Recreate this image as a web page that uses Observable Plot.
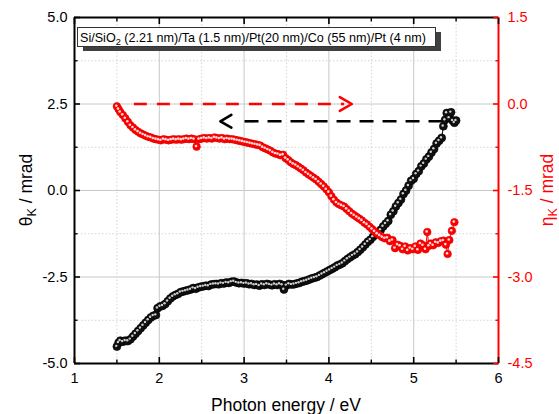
<!DOCTYPE html>
<html><head><meta charset="utf-8">
<script src="https://cdn.jsdelivr.net/npm/d3@7"></script>
<script src="https://cdn.jsdelivr.net/npm/@observablehq/plot@0.6"></script>
<style>
body{margin:0;background:#fff}
svg{font-family:"Liberation Sans",Arial,sans-serif}
</style>
</head><body><div id="chart"></div>
<script>
// ---- data ----
const energyTheta = [1.50,1.52,1.54,1.57,1.60,1.63,1.66,1.69,1.72,1.75,1.78,1.81,1.84,1.87,1.90,1.93,1.96,1.98,2.01,2.04,2.07,2.10,2.13,2.16,2.19,2.22,2.25,2.28,2.31,2.34,2.37,2.40,2.43,2.46,2.49,2.52,2.55,2.58,2.61,2.64,2.67,2.70,2.73,2.76,2.79,2.82,2.85,2.88,2.91,2.94,2.97,3.00,3.03,3.06,3.09,3.12,3.15,3.18,3.21,3.24,3.27,3.30,3.33,3.36,3.39,3.42,3.45,3.47,3.50,3.53,3.56,3.59,3.62,3.65,3.68,3.71,3.74,3.77,3.80,3.83,3.86,3.89,3.92,3.95,3.98,4.01,4.04,4.07,4.10,4.13,4.16,4.19,4.22,4.25,4.28,4.31,4.34,4.37,4.40,4.43,4.46,4.49,4.52,4.55,4.58,4.61,4.64,4.67,4.70,4.73,4.76,4.79,4.82,4.85,4.88,4.91,4.94,4.97,5.00,5.03,5.06,5.09,5.12,5.15,5.18,5.21,5.24,5.27,5.30,5.33,5.35,5.37,5.39,5.42,5.44,5.46,5.48,5.50];
const theta = [-4.51,-4.40,-4.34,-4.37,-4.34,-4.35,-4.30,-4.22,-4.14,-4.06,-3.98,-3.90,-3.82,-3.74,-3.67,-3.62,-3.60,-3.40,-3.35,-3.33,-3.28,-3.20,-3.12,-3.06,-3.02,-2.99,-2.94,-2.92,-2.90,-2.88,-2.86,-2.82,-2.84,-2.80,-2.78,-2.77,-2.75,-2.76,-2.72,-2.71,-2.70,-2.71,-2.68,-2.69,-2.66,-2.67,-2.64,-2.63,-2.66,-2.68,-2.67,-2.69,-2.68,-2.71,-2.70,-2.73,-2.72,-2.75,-2.71,-2.73,-2.70,-2.72,-2.74,-2.71,-2.73,-2.70,-2.73,-2.86,-2.74,-2.70,-2.72,-2.71,-2.69,-2.67,-2.64,-2.62,-2.60,-2.57,-2.54,-2.52,-2.50,-2.46,-2.42,-2.38,-2.34,-2.30,-2.26,-2.22,-2.17,-2.14,-2.10,-2.04,-1.98,-1.93,-1.88,-1.84,-1.78,-1.71,-1.64,-1.56,-1.48,-1.42,-1.34,-1.26,-1.20,-1.14,-1.04,-0.96,-0.88,-0.70,-0.60,-0.46,-0.36,-0.26,-0.10,0.00,0.14,0.28,0.34,0.48,0.56,0.70,0.78,0.90,0.98,1.10,1.20,1.36,1.44,1.52,1.86,2.04,2.24,2.10,2.26,2.02,1.96,2.02];

const energyEta = [1.50,1.52,1.54,1.57,1.60,1.63,1.66,1.69,1.72,1.75,1.78,1.81,1.84,1.87,1.90,1.93,1.96,1.99,2.02,2.05,2.08,2.11,2.14,2.17,2.20,2.23,2.26,2.29,2.32,2.35,2.38,2.41,2.44,2.47,2.50,2.53,2.56,2.59,2.62,2.65,2.68,2.71,2.74,2.77,2.80,2.83,2.86,2.89,2.92,2.95,2.98,3.01,3.04,3.07,3.10,3.13,3.16,3.19,3.22,3.25,3.28,3.31,3.34,3.37,3.40,3.43,3.46,3.49,3.52,3.55,3.58,3.61,3.64,3.67,3.70,3.73,3.76,3.79,3.82,3.85,3.88,3.91,3.94,3.97,4.00,4.03,4.06,4.09,4.12,4.15,4.18,4.21,4.24,4.27,4.30,4.33,4.36,4.39,4.42,4.45,4.48,4.51,4.54,4.57,4.60,4.63,4.66,4.69,4.72,4.75,4.78,4.81,4.84,4.87,4.90,4.93,4.96,4.99,5.02,5.05,5.08,5.11,5.14,5.16,5.18,5.20,5.23,5.26,5.29,5.32,5.35,5.38,5.40,5.42,5.45,5.48];
const eta = [-0.04,-0.09,-0.14,-0.19,-0.25,-0.31,-0.37,-0.41,-0.45,-0.48,-0.51,-0.53,-0.55,-0.57,-0.58,-0.60,-0.61,-0.62,-0.63,-0.61,-0.62,-0.63,-0.62,-0.61,-0.62,-0.61,-0.62,-0.61,-0.60,-0.61,-0.60,-0.61,-0.74,-0.61,-0.60,-0.59,-0.60,-0.59,-0.60,-0.58,-0.59,-0.60,-0.59,-0.61,-0.60,-0.61,-0.61,-0.62,-0.63,-0.64,-0.65,-0.66,-0.67,-0.68,-0.69,-0.70,-0.71,-0.72,-0.75,-0.77,-0.79,-0.81,-0.84,-0.86,-0.87,-0.89,-0.88,-0.94,-0.97,-1.01,-1.04,-1.06,-1.09,-1.12,-1.15,-1.19,-1.22,-1.25,-1.28,-1.31,-1.35,-1.39,-1.43,-1.48,-1.53,-1.60,-1.66,-1.71,-1.74,-1.76,-1.78,-1.82,-1.86,-1.90,-1.93,-1.96,-1.99,-2.02,-2.06,-2.09,-2.13,-2.17,-2.21,-2.25,-2.28,-2.31,-2.33,-2.32,-2.38,-2.36,-2.50,-2.44,-2.46,-2.52,-2.47,-2.54,-2.50,-2.52,-2.47,-2.53,-2.42,-2.45,-2.52,-2.22,-2.46,-2.42,-2.45,-2.40,-2.41,-2.38,-2.37,-2.44,-2.60,-2.36,-2.20,-2.05];

const xMajorTicks = [1,2,3,4,5,6];
const xMinorTicks = [1.5,2.5,3.5,4.5,5.5];
const thetaMajorTicks = [-5,-2.5,0,2.5,5];
const thetaMinorTicks = [-3.75,-1.25,1.25,3.75];
const etaMajorTicks = [-4.5,-3,-1.5,0,1.5];
const etaMinorTicks = [-3.75,-2.25,-0.75,0.75];
const etaDomain = [-4.5, 1.5];
const thetaDomain = [-5, 5];

// arrows: red points right along eta = 0, black points left along theta = 2
const arrowEta = [{from: 1.70, end: 4.18, tip: 4.27, value: 0}];
const arrowTheta = [{from: 5.34, end: 2.97, tip: 2.72, value: 2.0}];

const sampleText = ["Si/SiO", "2", " (2.21 nm)/Ta (1.5 nm)/Pt(20 nm)/Co (55 nm)/Pt (4 nm)"];
const xLabel = "Photon energy / eV";
const leftLabel = ["θ", "K", " / mrad"];
const rightLabel = ["η", "K", " / mrad"];

// ---- helpers ----
const span = (thetaDomain[1]-thetaDomain[0])/(etaDomain[1]-etaDomain[0]);
const etaToY = e => thetaDomain[0] + (e - etaDomain[0]) * span;
const yToEta = y => etaDomain[0] + (y - thetaDomain[0]) / span;
const fmt = v => { const r = Math.round(v*10)/10; return (r < 0 ? "-" : "") + Math.abs(r).toFixed(1); };

const thetaData = energyTheta.map((x,i)=>({x, y: theta[i]}));
const etaData = energyEta.map((x,i)=>({x, y: etaToY(eta[i])}));
const RED = "#ff0000";
const none = () => "";
// open chevron arrow head (points in the vector direction, tip at the anchor end)
const chevron = {draw(context, l) {
  const w = l * 0.58;
  context.moveTo(-w, 0);
  context.lineTo(0, -l);
  context.lineTo(w, 0);
}};

const plot = Plot.plot({
  width: 559, height: 414,
  marginLeft: 74, marginRight: 61, marginTop: 17, marginBottom: 51,
  x: {domain: [1,6]},
  y: {domain: thetaDomain},
  style: {fontFamily: "Liberation Sans, Arial, sans-serif", fontSize: "14.5px", background: "white", color: "black"},
  marks: [
    // grid
    Plot.ruleX(xMinorTicks, {stroke: "#d4d4d4", strokeDasharray: "1.5,2"}),
    Plot.ruleY(thetaMinorTicks, {stroke: "#d4d4d4", strokeDasharray: "1.5,2"}),
    Plot.ruleX(xMajorTicks.slice(1,-1), {stroke: "#c8c8c8"}),
    Plot.ruleY(thetaMajorTicks.slice(1,-1), {stroke: "#c8c8c8"}),
    // dashed arrows
    Plot.link(arrowEta, {x1: "from", x2: "end", y1: d => etaToY(d.value), y2: d => etaToY(d.value), stroke: RED, strokeWidth: 2.6, strokeDasharray: "13,10"}),
    Plot.vector(arrowEta, {x: "tip", y: d => etaToY(d.value), length: 12, rotate: 90, anchor: "end", shape: chevron, stroke: RED, strokeWidth: 2.6, fill: "none"}),
    Plot.link(arrowTheta, {x1: "from", x2: "end", y1: "value", y2: "value", stroke: "black", strokeWidth: 2.6, strokeDasharray: "14,9"}),
    Plot.vector(arrowTheta, {x: "tip", y: "value", length: 11, rotate: -90, anchor: "end", shape: chevron, stroke: "black", strokeWidth: 2.6, fill: "none"}),
    // theta series
    Plot.line(thetaData, {x: "x", y: "y", stroke: "black", strokeWidth: 1}),
    Plot.dot(thetaData, {x: "x", y: "y", r: 4, fill: "#111", stroke: "#000", strokeWidth: 0.6}),
    Plot.dot(thetaData, {x: "x", y: "y", r: 1.2, fill: "white", fillOpacity: 0.8, dx: -0.7, dy: -0.7}),
    // eta series
    Plot.line(etaData, {x: "x", y: "y", stroke: RED, strokeWidth: 1}),
    Plot.dot(etaData, {x: "x", y: "y", r: 3.8, fill: RED, stroke: "#e00000", strokeWidth: 0.6}),
    Plot.dot(etaData, {x: "x", y: "y", r: 1.3, fill: "white", fillOpacity: 0.85, dx: -0.6, dy: -0.6}),
    // frame
    Plot.ruleX([1], {stroke: "black", strokeWidth: 2}),
    Plot.ruleY(thetaDomain, {stroke: "black", strokeWidth: 2}),
    Plot.ruleX([6], {stroke: RED, strokeWidth: 2}),
    // bottom axis
    Plot.axisX(xMajorTicks, {anchor: "bottom", tickSize: -6, strokeWidth: 1.6, tickFormat: none, label: null}),
    Plot.axisX(xMinorTicks, {anchor: "bottom", tickSize: -3.5, strokeWidth: 1.4, tickFormat: none, label: null}),
    Plot.axisX(xMajorTicks, {anchor: "bottom", tickSize: 0, tickPadding: 9, tickFormat: d => String(d), label: null}),
    // top axis
    Plot.axisX(xMajorTicks, {anchor: "top", tickSize: -6, strokeWidth: 1.6, tickFormat: none, label: null}),
    Plot.axisX(xMinorTicks, {anchor: "top", tickSize: -3.5, strokeWidth: 1.4, tickFormat: none, label: null}),
    // left axis
    Plot.axisY(thetaMajorTicks, {anchor: "left", tickSize: -6, strokeWidth: 1.6, tickFormat: none, label: null}),
    Plot.axisY(thetaMinorTicks, {anchor: "left", tickSize: -3.5, strokeWidth: 1.4, tickFormat: none, label: null}),
    Plot.axisY(thetaMajorTicks, {anchor: "left", tickSize: 0, tickPadding: 7, tickFormat: fmt, label: null}),
    // right axis (eta)
    Plot.axisY(etaMajorTicks.map(etaToY), {anchor: "right", tickSize: -6, strokeWidth: 1.6, color: RED, tickFormat: none, label: null}),
    Plot.axisY(etaMinorTicks.map(etaToY), {anchor: "right", tickSize: -3.5, strokeWidth: 1.4, color: RED, tickFormat: none, label: null}),
    Plot.axisY(etaMajorTicks.map(etaToY), {anchor: "right", tickSize: 0, tickPadding: 9, color: RED, tickFormat: y => fmt(yToEta(y)), label: null})
  ]
});
document.getElementById("chart").appendChild(plot);

// ---- titles and sample box ----
const svg = d3.select(plot);
function subText(g, parts, size) {
  g.append("tspan").text(parts[0]);
  g.append("tspan").attr("font-size", size*0.72).attr("dy", size*0.25).text(parts[1]);
  g.append("tspan").attr("dy", -size*0.25).text(parts[2]);
}
svg.append("text").attr("x", 286).attr("y", 411).attr("text-anchor", "middle")
  .attr("font-size", 17.5).attr("fill", "black").text(xLabel);
const lt = svg.append("text").attr("transform", "translate(32,190) rotate(-90)")
  .attr("text-anchor", "middle").attr("font-size", 17.5).attr("fill", "black");
subText(lt, leftLabel, 17.5);
const rt = svg.append("text").attr("transform", "translate(553,190) rotate(-90)")
  .attr("text-anchor", "middle").attr("font-size", 17.5).attr("fill", RED);
subText(rt, rightLabel, 17.5);

const box = svg.append("g");
box.append("rect").attr("x", 83).attr("y", 32).attr("width", 358).attr("height", 19).attr("fill", "#404040");
box.append("rect").attr("x", 77.5).attr("y", 27.5).attr("width", 358).attr("height", 19).attr("fill", "white").attr("stroke", "#333").attr("stroke-width", 1);
const st = box.append("text").attr("x", 80).attr("y", 41.5).attr("text-anchor", "start").attr("font-size", 12.6).attr("fill", "black");
st.append("tspan").text(sampleText[0]);
st.append("tspan").attr("font-size", 9.2).attr("dy", 3).text(sampleText[1]);
st.append("tspan").attr("dy", -3).text(sampleText[2]);
</script>
</body></html>
